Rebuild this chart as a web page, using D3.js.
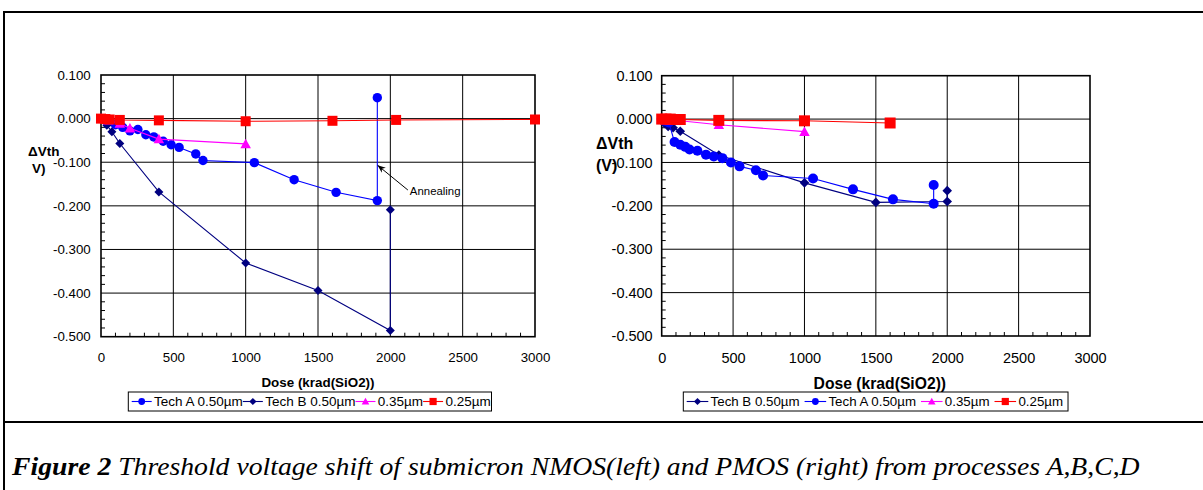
<!DOCTYPE html>
<html>
<head>
<meta charset="utf-8">
<script src="https://cdn.jsdelivr.net/npm/d3@7"></script>
<style>
body { margin: 0; background: #fff; }
svg { display: block; }
text { font-family: "Liberation Sans", Arial, sans-serif; fill: #000; }
</style>
</head>
<body>
<script>
const W = 1203, H = 490;

const xTicks = [0, 500, 1000, 1500, 2000, 2500, 3000];
const yTicks = [0.1, 0, -0.1, -0.2, -0.3, -0.4, -0.5];

// NMOS (left): [dose krad(SiO2), delta Vth V]
const nmosTechA = [[0, 0], [50, -0.008], [100, -0.014], [150, -0.02], [200, -0.028], [255, -0.025],
  [310, -0.037], [365, -0.042], [430, -0.052], [485, -0.06], [540, -0.066], [655, -0.081],
  [705, -0.096], [1060, -0.101], [1335, -0.14], [1625, -0.169], [1910, -0.188], [1910, 0.048]];
const nmosTechB = [[0, 0], [40, -0.015], [75, -0.03], [130, -0.057], [400, -0.168], [1000, -0.331],
  [1500, -0.394], [2000, -0.486], [2000, -0.209]];
const nmos035 = [[0, 0], [50, -0.004], [130, -0.011], [200, -0.022], [400, -0.047], [1000, -0.058]];
const nmos025 = [[0, 0], [30, -0.001], [60, -0.002], [130, -0.003], [400, -0.004], [1000, -0.006],
  [1600, -0.005], [2040, -0.003], [3000, -0.002]];

// PMOS (right)
const pmosTechB = [[0, 0], [20, -0.01], [45, -0.017], [80, -0.02], [130, -0.028], [400, -0.083],
  [1000, -0.147], [1500, -0.192], [2000, -0.19], [2000, -0.165]];
const pmosTechA = [[0, 0], [20, -0.004], [50, -0.008], [90, -0.053], [130, -0.059], [165, -0.064],
  [195, -0.07], [250, -0.073], [310, -0.082], [365, -0.086], [425, -0.09], [485, -0.1],
  [545, -0.109], [660, -0.118], [710, -0.13], [1060, -0.137], [1340, -0.162], [1620, -0.185],
  [1905, -0.195], [1905, -0.152]];
const pmos035 = [[0, 0], [30, -0.002], [60, -0.003], [130, -0.004], [400, -0.013], [1000, -0.029]];
const pmos025 = [[0, 0], [30, 0], [60, 0], [100, -0.001], [130, -0.001], [400, -0.003], [1000, -0.004],
  [1600, -0.009]];

const nmosNames = ["Tech A 0.50\u00b5m", "Tech B 0.50\u00b5m", "0.35\u00b5m", "0.25\u00b5m"];
const pmosNames = ["Tech B 0.50\u00b5m", "Tech A 0.50\u00b5m", "0.35\u00b5m", "0.25\u00b5m"];

const annealing = { label: "Annealing", from: [2135, -0.166], to: [1912, -0.107] };

const captionBold = "Figure 2";
const captionRest = " Threshold voltage shift of submicron NMOS(left) and PMOS (right) from processes A,B,C,D";

const techA = { color: "#0000ff", shape: "circle" };
const techB = { color: "#000080", shape: "diamond" };
const p035 = { color: "#ff00ff", shape: "triangle" };
const p025 = { color: "#ff0000", shape: "square" };

const svg = d3.select("body").append("svg").attr("width", W).attr("height", H);

// page frame
svg.append("path")
  .attr("d", "M4,490 L4,12 L1203,12 M4,422 L1203,422")
  .attr("fill", "none").attr("stroke", "#000").attr("stroke-width", 2);

function markerPath(shape, s) {
  if (shape === "circle") return `M${s},0A${s},${s} 0 1,1 ${-s},0A${s},${s} 0 1,1 ${s},0Z`;
  if (shape === "diamond") return `M0,${-s}L${s},0L0,${s}L${-s},0Z`;
  if (shape === "triangle") return `M0,${-s * 1.05}L${s * 1.05},${s * 0.85}L${-s * 1.05},${s * 0.85}Z`;
  return `M${-s},${-s}L${s},${-s}L${s},${s}L${-s},${s}Z`;
}

function drawChart(o) {
  const x = d3.scaleLinear().domain([0, 3000]).range([o.left, o.right]);
  const y = d3.scaleLinear().domain([-0.5, 0.1]).range([o.bottom, o.top]);
  const g = svg.append("g");

  g.selectAll(".vg").data(xTicks.slice(1, -1)).join("line")
    .attr("x1", d => x(d)).attr("x2", d => x(d))
    .attr("y1", o.top).attr("y2", o.bottom)
    .attr("stroke", "#000").attr("stroke-width", 1);
  g.selectAll(".hg").data(yTicks.slice(1, -1)).join("line")
    .attr("x1", o.left).attr("x2", o.right)
    .attr("y1", d => y(d)).attr("y2", d => y(d))
    .attr("stroke", "#000").attr("stroke-width", 1);

  // minor ticks
  const xMinor = d3.range(100, 3000, 100).filter(d => d % 500 !== 0);
  g.selectAll(".xm").data(xMinor).join("line")
    .attr("x1", d => x(d)).attr("x2", d => x(d))
    .attr("y1", o.bottom).attr("y2", o.bottom - 4)
    .attr("stroke", "#000");
  const yMinor = d3.range(-24, 5).filter(d => d % 5 !== 0).map(d => d * 0.02);
  g.selectAll(".ym").data(yMinor).join("line")
    .attr("x1", o.left).attr("x2", o.left + 4)
    .attr("y1", d => y(d)).attr("y2", d => y(d))
    .attr("stroke", "#000");

  g.append("rect")
    .attr("x", o.left).attr("y", o.top)
    .attr("width", o.right - o.left).attr("height", o.bottom - o.top)
    .attr("fill", "none").attr("stroke", "#000").attr("stroke-width", 1.6);

  const ya = g.append("g").attr("transform", `translate(${o.left},0)`)
    .call(d3.axisLeft(y).tickValues(yTicks).tickSize(0).tickPadding(o.yPad).tickFormat(d => d.toFixed(3)));
  const xa = g.append("g").attr("transform", `translate(0,${o.bottom})`)
    .call(d3.axisBottom(x).tickValues(xTicks).tickSize(0).tickPadding(o.xPad).tickFormat(d => String(d)));
  [ya, xa].forEach(a => {
    a.select(".domain").remove();
    a.attr("font-family", null).attr("font-size", null);
    a.selectAll("text").attr("font-size", o.tickFs);
  });

  // series
  const line = d3.line().x(d => x(d[0])).y(d => y(d[1]));
  o.series.forEach(s => {
    g.append("path").datum(s.data).attr("d", line)
      .attr("fill", "none").attr("stroke", s.style.color).attr("stroke-width", 1.1);
    g.selectAll(null).data(s.data).join("path")
      .attr("transform", d => `translate(${x(d[0])},${y(d[1])})`)
      .attr("d", markerPath(s.style.shape, o.mark[s.style.shape]))
      .attr("fill", s.style.color);
  });

  if (o.note) {
    const [fx, fy] = [x(o.note.from[0]), y(o.note.from[1])];
    const [tx, ty] = [x(o.note.to[0]), y(o.note.to[1])];
    g.append("line").attr("x1", fx - 2).attr("y1", fy - 1).attr("x2", tx).attr("y2", ty)
      .attr("stroke", "#000").attr("stroke-width", 1).attr("marker-end", "url(#arr)");
    g.append("text").attr("x", fx).attr("y", fy).attr("dy", "0.36em")
      .attr("font-size", 11.4).text(o.note.label);
  }

  // axis titles
  g.append("text").attr("x", (o.left + o.right) / 2 + o.titleDx).attr("y", o.titleY)
    .attr("text-anchor", "middle").attr("font-weight", "bold").attr("font-size", o.titleFs)
    .text("Dose (krad(SiO2))");
  o.yTitle.forEach(t => {
    g.append("text").attr("x", t.x).attr("y", t.y)
      .attr("font-weight", "bold").attr("font-size", o.yTitleFs).text(t.s);
  });

  // legend
  const lg = svg.append("g");
  const cy = o.legend.y + 9.5;
  let cx = o.legend.x + 3.4;
  o.series.forEach((s, i) => {
    lg.append("line").attr("x1", cx).attr("x2", cx + o.legend.sample)
      .attr("y1", cy).attr("y2", cy).attr("stroke", s.style.color).attr("stroke-width", 1.1);
    lg.append("path").attr("transform", `translate(${cx + o.legend.sample / 2},${cy})`)
      .attr("d", markerPath(s.style.shape, o.legend.mark[s.style.shape]))
      .attr("fill", s.style.color);
    const t = lg.append("text").attr("x", cx + o.legend.sample + 2.3).attr("y", cy)
      .attr("dy", "0.36em").attr("font-size", o.legend.fs).text(o.names[i]);
    cx += o.legend.sample + 2.3 + t.node().getComputedTextLength() + o.legend.gap;
  });
  lg.insert("rect", ":first-child")
    .attr("x", o.legend.x).attr("y", o.legend.y)
    .attr("width", cx - o.legend.x - o.legend.gap + o.legend.padR).attr("height", 19)
    .attr("fill", "#fff").attr("stroke", "#000").attr("stroke-width", 1);
}

svg.append("defs").append("marker")
  .attr("id", "arr").attr("viewBox", "0 0 10 10").attr("refX", 10).attr("refY", 5)
  .attr("markerWidth", 8).attr("markerHeight", 8).attr("orient", "auto")
  .attr("markerUnits", "userSpaceOnUse")
  .append("path").attr("d", "M0,1 L10,5 L0,9 L3,5 Z").attr("fill", "#000");

drawChart({
  left: 101, right: 535, top: 75, bottom: 336.7,
  yPad: 10.3, xPad: 15.4, tickFs: 13.3,
  titleFs: 13.4, titleY: 387, titleDx: 0,
  yTitleFs: 13.5,
  yTitle: [{ x: 28, y: 155.5, s: "\u0394Vth" }, { x: 32, y: 172.5, s: "V)" }],
  mark: { circle: 4.7, diamond: 4.5, triangle: 5, square: 5 },
  series: [
    { data: nmosTechA, style: techA },
    { data: nmosTechB, style: techB },
    { data: nmos035, style: p035 },
    { data: nmos025, style: p025 }
  ],
  names: nmosNames,
  note: annealing,
  legend: { x: 128.3, y: 392, sample: 20, gap: 0, padR: 0.8, fs: 13.5,
    mark: { circle: 3.4, diamond: 3.6, triangle: 3.6, square: 3.6 } }
});

drawChart({
  left: 661.7, right: 1090, top: 75.7, bottom: 336,
  yPad: 9, xPad: 17.2, tickFs: 14.5,
  titleFs: 15.7, titleY: 389, titleDx: 4,
  yTitleFs: 16,
  yTitle: [{ x: 596, y: 148.5, s: "\u0394Vth" }, { x: 596, y: 170.5, s: "(V)" }],
  mark: { circle: 5, diamond: 4.8, triangle: 5, square: 5.5 },
  series: [
    { data: pmosTechB, style: techB },
    { data: pmosTechA, style: techA },
    { data: pmos035, style: p035 },
    { data: pmos025, style: p025 }
  ],
  names: pmosNames,
  note: null,
  legend: { x: 683.3, y: 392, sample: 21.6, gap: 5, padR: 5, fs: 13.3,
    mark: { circle: 3.4, diamond: 3.6, triangle: 3.6, square: 3.6 } }
});

// caption
const cap = svg.append("text").attr("x", 0).attr("y", 0)
  .attr("font-style", "italic").attr("font-size", 25)
  .style("font-family", "'Liberation Serif', 'Times New Roman', serif");
cap.append("tspan").attr("font-weight", "bold").text(captionBold);
cap.append("tspan").text(captionRest);
const capW = cap.node().getComputedTextLength();
const capX = 12, capEnd = 1140;
cap.attr("transform", `translate(${capX},475) scale(${(capEnd - capX) / capW},1)`);
</script>
</body>
</html>
